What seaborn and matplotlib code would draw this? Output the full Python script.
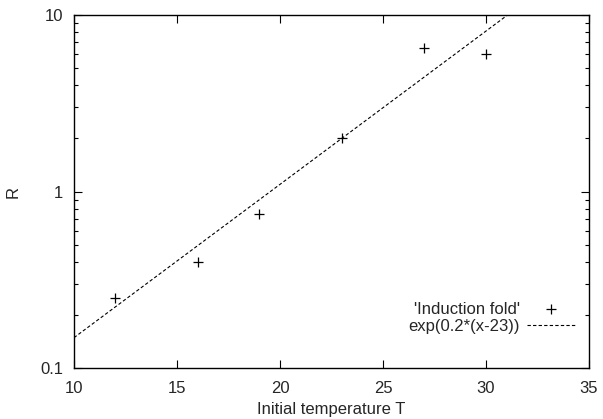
import numpy as np
import pandas as pd
import matplotlib
matplotlib.use("Agg")
import matplotlib.pyplot as plt
import seaborn as sns
from matplotlib.ticker import LogLocator, FixedLocator, NullFormatter

# data
temperature = [12, 16, 19, 23, 27, 30]
induction_fold = [0.25, 0.4, 0.75, 2.0, 6.5, 6.0]

# fitted curve parameters (curve as drawn in the reference)
fit_amp = 2.0
fit_rate = 0.2
fit_center = 23

x_ticks = [10, 15, 20, 25, 30, 35]
y_ticks = [0.1, 1, 10]
y_tick_labels = ["0.1", "1", "10"]

sns.set_style("ticks")
plt.rcParams['font.family'] = ['Liberation Sans', 'DejaVu Sans']
plt.rcParams['font.size'] = 12

fig = plt.figure(figsize=(6.03, 4.19), dpi=100)
ax = fig.add_axes([74 / 603, 1 - 368 / 419, (589 - 74) / 603, (368 - 15) / 419])

df = pd.DataFrame({"T": temperature, "R": induction_fold})

xs = np.linspace(10, 35, 200)
fit = pd.DataFrame({"T": xs, "R": fit_amp * np.exp(fit_rate * (xs - fit_center))})

sns.scatterplot(data=df, x="T", y="R", marker="+", s=45, color="black",
                linewidth=0.9, ax=ax, label="'Induction fold'", zorder=3)
sns.lineplot(data=fit, x="T", y="R", color="black", linewidth=0.8,
             linestyle=(0, (3, 2)), ax=ax, label="exp(0.2*(x-23))")

ax.set_yscale("log")
ax.set_xlim(10, 35)
ax.set_ylim(0.1, 10)

ax.xaxis.set_major_locator(FixedLocator(x_ticks))
ax.yaxis.set_major_locator(FixedLocator(y_ticks))
ax.set_yticklabels(y_tick_labels)
ax.yaxis.set_minor_locator(LogLocator(base=10, subs=np.arange(2, 10)))
ax.yaxis.set_minor_formatter(NullFormatter())
ax.xaxis.set_minor_locator(FixedLocator([]))

ax.tick_params(which="both", direction="in", top=True, right=True,
               color="black", width=0.8)
ax.tick_params(which="major", length=6, labelsize=12)
ax.tick_params(axis="x", which="major", pad=9)
ax.tick_params(axis="y", which="major", pad=8)
ax.tick_params(which="minor", length=3)
for sp in ax.spines.values():
    sp.set_visible(True)
    sp.set_color("black")
    sp.set_linewidth(1.0)

ax.set_xlabel("Initial temperature T", fontsize=12, labelpad=5)
ax.set_ylabel("R", fontsize=12)
ax.yaxis.set_label_coords((21 - 74) / 515, 0.5)

leg = ax.legend(loc="lower right", frameon=False, markerfirst=False,
                fontsize=12, handlelength=2.9, handletextpad=0.4,
                labelspacing=0.15, borderpad=0, borderaxespad=0,
                bbox_to_anchor=((575 - 74) / 515, (368 - 334) / 353))

fig.savefig("out.png", dpi=100)
